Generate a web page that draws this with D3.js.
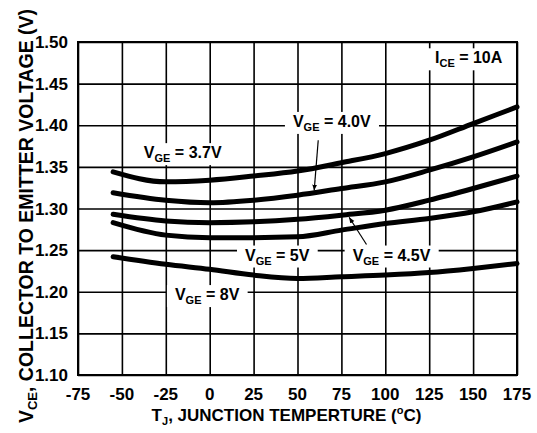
<!DOCTYPE html>
<html>
<head>
<meta charset="utf-8">
<script src="https://cdn.jsdelivr.net/npm/d3@7"></script>
<style>
  body { margin: 0; background: #fff; }
  text { font-family: "Liberation Sans", Arial, sans-serif; font-weight: bold; fill: #000; }
</style>
</head>
<body>
<script>
// junction temperature points (deg C) where the curves were read
const temps = [-55, -25, 0, 25, 50, 75, 100, 125, 150, 175];

// VCE (V) for each gate voltage
const vge37 = [1.344, 1.332, 1.334, 1.339, 1.345, 1.355, 1.366, 1.382, 1.402, 1.422];
const vge40 = [1.319, 1.310, 1.307, 1.310, 1.316, 1.324, 1.332, 1.346, 1.362, 1.380];
const vge45 = [1.293, 1.285, 1.283, 1.284, 1.287, 1.292, 1.298, 1.310, 1.324, 1.339];
const vge50 = [1.283, 1.268, 1.265, 1.265, 1.266, 1.274, 1.282, 1.288, 1.296, 1.308];
const vge80 = [1.242, 1.233, 1.227, 1.220, 1.216, 1.218, 1.220, 1.223, 1.228, 1.234];

const xTicks = [-75, -50, -25, 0, 25, 50, 75, 100, 125, 150, 175];
const yTicks = [1.10, 1.15, 1.20, 1.25, 1.30, 1.35, 1.40, 1.45, 1.50];

// curve labels: [value text, temp at text start, volts at baseline]
const labels = [
  ['3.7V', -37.5, 1.3605],
  ['4.0V', 47.4, 1.398],
  ['5V', 20.1, 1.2375],
  ['4.5V', 81.4, 1.2375],
  ['8V', -19.8, 1.190]
];
// arrows: [from temp, from volts, to temp, to volts]
const arrows = [
  [61.8, 1.382, 59.5, 1.3215],
  [89.3, 1.2567, 79.4, 1.2895]
];

const W = 537, H = 433;
const m = { top: 42, right: 20, bottom: 58, left: 78 };
const w = W - m.left - m.right;
const h = H - m.top - m.bottom;

const svg = d3.select('body').append('svg')
  .attr('width', W)
  .attr('height', H);

const g = svg.append('g').attr('transform', `translate(${m.left},${m.top})`);

const x = d3.scaleLinear().domain([-75, 175]).range([0, w]);
const y = d3.scaleLinear().domain([1.10, 1.50]).range([h, 0]);

// grid
g.append('g')
  .attr('transform', `translate(0,${h})`)
  .call(d3.axisBottom(x).tickValues(xTicks).tickSize(-h).tickFormat(''))
  .call(a => a.select('.domain').remove())
  .selectAll('line').attr('stroke', '#000').attr('stroke-width', 1.6);
g.append('g')
  .call(d3.axisLeft(y).tickValues(yTicks).tickSize(-w).tickFormat(''))
  .call(a => a.select('.domain').remove())
  .selectAll('line').attr('stroke', '#000').attr('stroke-width', 1.6);

g.append('rect')
  .attr('width', w).attr('height', h)
  .attr('fill', 'none').attr('stroke', '#000').attr('stroke-width', 2);

// tick labels
g.selectAll('.xl')
  .data(xTicks)
  .enter()
    .append('text')
    .attr('x', d => x(d))
    .attr('y', h + 25)
    .attr('text-anchor', 'middle')
    .style('font-size', '17px')
    .text(d => d);
g.selectAll('.yl')
  .data(yTicks)
  .enter()
    .append('text')
    .attr('x', -10)
    .attr('y', d => y(d) + 6)
    .attr('text-anchor', 'end')
    .style('font-size', '17px')
    .text(d => d.toFixed(2));

// curves
const series = [vge37, vge40, vge45, vge50, vge80];
const line = d3.line()
  .x((d, i) => x(temps[i]))
  .y(d => y(d))
  .curve(d3.curveMonotoneX);
g.selectAll('.curve')
  .data(series)
  .enter()
    .append('path')
    .attr('d', line)
    .attr('fill', 'none')
    .attr('stroke', '#000')
    .attr('stroke-width', 5)
    .attr('stroke-linecap', 'round');

// arrows
svg.append('defs').append('marker')
  .attr('id', 'ah')
  .attr('viewBox', '0 0 10 10')
  .attr('refX', 10).attr('refY', 5)
  .attr('markerWidth', 6).attr('markerHeight', 9)
  .attr('markerUnits', 'userSpaceOnUse')
  .attr('orient', 'auto')
  .append('path').attr('d', 'M0,1L10,5L0,9Z').attr('fill', '#000');
g.selectAll('.arrow')
  .data(arrows)
  .enter()
    .append('line')
    .attr('x1', d => x(d[0])).attr('y1', d => y(d[1]))
    .attr('x2', d => x(d[2])).attr('y2', d => y(d[3]))
    .attr('stroke', '#000').attr('stroke-width', 1.2)
    .attr('marker-end', 'url(#ah)');

// labels with white boxes
const addLabel = (parent, px, py, main, sub, rest) => {
  const lg = parent.append('g');
  const t = lg.append('text')
    .attr('x', px).attr('y', py)
    .style('font-size', '16px');
  t.append('tspan').text(main);
  t.append('tspan').attr('dy', 4).style('font-size', '11px').text(sub);
  t.append('tspan').attr('dy', -4).text(rest);
  const b = t.node().getBBox();
  lg.insert('rect', 'text')
    .attr('x', b.x - 8).attr('y', b.y - 1)
    .attr('width', b.width + 16).attr('height', b.height + 2)
    .attr('fill', '#fff');
};
labels.forEach(l => addLabel(g, x(l[1]), y(l[2]), 'V', 'GE', ' = ' + l[0]));
addLabel(g, x(128.3), y(1.4744), 'I', 'CE', ' = 10A');

// axis titles
const xt = svg.append('text')
  .attr('x', m.left + w / 2 - 11)
  .attr('y', 421)
  .attr('text-anchor', 'middle')
  .style('font-size', '17px');
xt.append('tspan').text('T');
xt.append('tspan').attr('dy', 4).style('font-size', '11px').text('J');
xt.append('tspan').attr('dy', -4).text(', JUNCTION TEMPERTURE (');
xt.append('tspan').attr('dy', -7).style('font-size', '11px').text('o');
xt.append('tspan').attr('dy', 7).text('C)');

const yt = svg.append('text')
  .attr('transform', 'translate(33,216) rotate(-90)')
  .attr('text-anchor', 'middle')
  .style('font-size', '19.5px');
yt.append('tspan').text('V');
yt.append('tspan').attr('dy', 4).style('font-size', '13px').text('CE');
yt.append('tspan').attr('dy', -4).text(', COLLECTOR TO EMITTER VOLTAGE (V)');
</script>
</body>
</html>
